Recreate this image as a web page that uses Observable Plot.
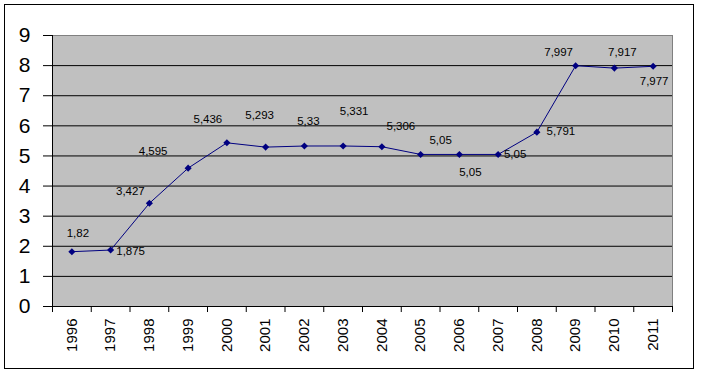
<!DOCTYPE html>
<html>
<head>
<meta charset="utf-8">
<script src="https://cdn.jsdelivr.net/npm/d3@7"></script>
<script src="https://cdn.jsdelivr.net/npm/@observablehq/plot@0.6"></script>
<style>
  html, body { margin: 0; padding: 0; background: #fff; }
  #wrap { position: relative; width: 702px; height: 372px; }
  #border { position: absolute; left: 4px; top: 4px; width: 690px; height: 365px; border: 1px solid #000; box-sizing: border-box; }
  #chart { position: absolute; left: 0; top: 0; }
</style>
</head>
<body>
<div id="wrap"><div id="border"></div><div id="chart"></div></div>
<script>
const years = ["1996","1997","1998","1999","2000","2001","2002","2003","2004","2005","2006","2007","2008","2009","2010","2011"];
const values = [1.82, 1.875, 3.427, 4.595, 5.436, 5.293, 5.33, 5.331, 5.306, 5.05, 5.05, 5.05, 5.791, 7.997, 7.917, 7.977];
const labels = ["1,82","1,875","3,427","4,595","5,436","5,293","5,33","5,331","5,306","5,05","5,05","5,05","5,791","7,997","7,917","7,977"];
const yTicks = [0,1,2,3,4,5,6,7,8,9];

// label placement (pixel nudges relative to each point), layout only
const labelNudge = [[6,-18],[20,1],[-19,-12],[-35,-17],[-19,-24],[-6,-32],[4,-25],[11,-35],[19,-20],[20,-14],[11,18],[17,0],[24,-1],[-17,-13],[8,-16],[1,15]];

const data = years.map((y, i) => ({year: y, value: values[i], label: labels[i]}));

const W = 702, H = 372, mL = 52, mR = 30, mT = 35, mB = 66;
const step = (W - mL - mR) / years.length;
const font = "Arial, 'Liberation Sans', sans-serif";

const labelMarks = data.map((d, i) => Plot.text([d], {
  x: "year", y: "value", text: "label",
  dx: labelNudge[i][0], dy: labelNudge[i][1],
  fontSize: 11.5, fill: "#000", fontFamily: font
}));

const chart = Plot.plot({
  width: W, height: H,
  marginLeft: mL, marginRight: mR, marginTop: mT, marginBottom: mB,
  style: {background: "transparent", fontFamily: font},
  x: {type: "point", domain: years, padding: 0.5, round: false, axis: null},
  y: {domain: [0, 9], axis: null},
  marks: [
    Plot.frame({fill: "#C0C0C0", stroke: "#808080"}),
    Plot.ruleY(yTicks.filter(t => t > 0 && t < 9), {stroke: "#000", strokeWidth: 1}),
    Plot.ruleY([0], {stroke: "#000"}),
    // left axis line
    Plot.ruleX([years[0]], {y1: 0, y2: 9, dx: -step / 2, stroke: "#000"}),
    // y ticks
    Plot.ruleY(yTicks, {y: d => d, x1: () => years[0], x2: () => years[0], insetLeft: -(step / 2 + 9), insetRight: step / 2, stroke: "#000"}),
    Plot.text(yTicks, {y: d => d, x: () => years[0], dx: -step / 2 - 22, text: d => String(d), textAnchor: "end", fontSize: 21, fill: "#000", fontFamily: font}),
    // x category boundary ticks
    Plot.ruleX(years, {x: d => d, y1: 0, y2: -0.2, dx: -step / 2, stroke: "#000"}),
    Plot.ruleX([years[years.length - 1]], {y1: 0, y2: -0.2, dx: step / 2, stroke: "#000"}),
    // x labels
    Plot.text(years, {x: d => d, y: () => 0, dy: 12, rotate: -90, textAnchor: "end", text: d => d, fontSize: 15, fill: "#000", fontFamily: font}),
    // series
    Plot.line(data, {x: "year", y: "value", stroke: "#000080", strokeWidth: 1}),
    Plot.dot(data, {x: "year", y: "value", symbol: "diamond2", r: 3.2, fill: "#000080", stroke: "none"}),
    ...labelMarks
  ]
});
document.getElementById("chart").appendChild(chart);
</script>
</body>
</html>
